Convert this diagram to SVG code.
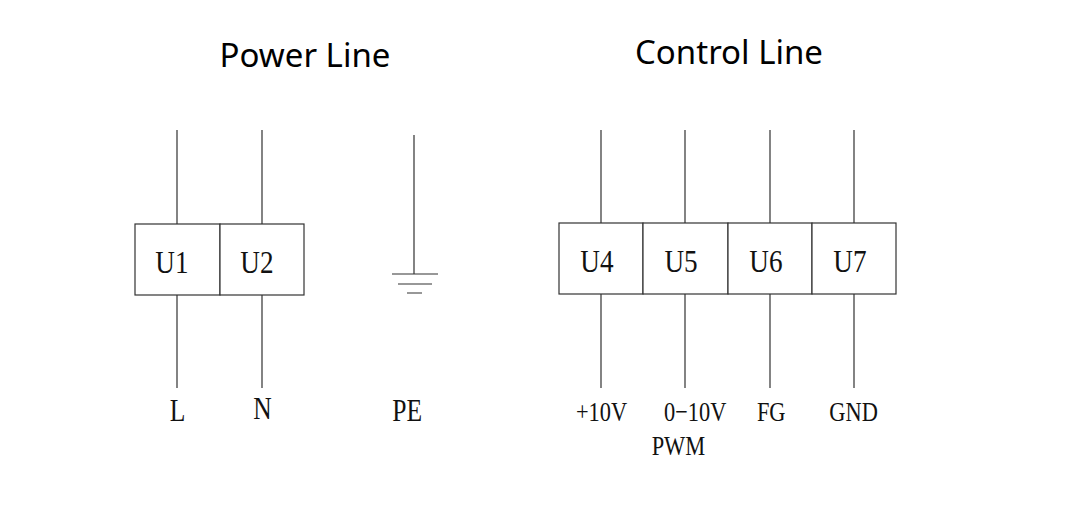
<svg xmlns="http://www.w3.org/2000/svg" width="1075" height="518" viewBox="0 0 1075 518">
<style>
.w{stroke:#333;stroke-width:1.2;fill:none}
.b{stroke:#333;stroke-width:1.2;fill:#fff}
.t{font-family:"Noto Sans","Open Sans",sans-serif;font-size:33px;fill:#000;text-anchor:middle}
.u{font-family:"Liberation Serif",serif;font-size:32px;fill:#111;text-anchor:middle}
.l{font-family:"Liberation Serif",serif;font-size:28px;fill:#111;text-anchor:middle}
</style>
<rect width="1075" height="518" fill="#fff"/>
<text class="t" x="305" y="67">Power Line</text>
<text class="t" x="729" y="64">Control Line</text>
<g id="connectors">
<path class="w" d="M177 130V388M262 130V388M601 130V388M685 130V388M770 130V388M854 130V388M414 135V274M392 274H438M398 284H432M407 293H422"/>
</g>
<g id="U1"><rect class="b" x="135" y="224" width="85" height="71"/><text class="u" x="172" y="273" transform="translate(172 0) scale(0.85 1) translate(-172 0)">U1</text></g>
<g id="U2"><rect class="b" x="220" y="224" width="84" height="71"/><text class="u" x="257" y="273" transform="translate(257 0) scale(0.85 1) translate(-257 0)">U2</text></g>
<g id="U4"><rect class="b" x="559" y="223" width="84" height="71"/><text class="u" x="597" y="272" transform="translate(597 0) scale(0.85 1) translate(-597 0)">U4</text></g>
<g id="U5"><rect class="b" x="643" y="223" width="85" height="71"/><text class="u" x="681" y="272" transform="translate(681 0) scale(0.85 1) translate(-681 0)">U5</text></g>
<g id="U6"><rect class="b" x="728" y="223" width="84" height="71"/><text class="u" x="766" y="272" transform="translate(766 0) scale(0.85 1) translate(-766 0)">U6</text></g>
<g id="U7"><rect class="b" x="812" y="223" width="84" height="71"/><text class="u" x="850" y="272" transform="translate(850 0) scale(0.85 1) translate(-850 0)">U7</text></g>
<g transform="scale(0.8 1)">
<text class="u" x="222" y="421">L</text>
<text class="u" x="328" y="419">N</text>
<text class="u" x="509" y="421">PE</text>
<text class="l" x="752" y="421">+10V</text>
<text class="l" x="869" y="421">0−10V</text>
<text class="l" x="848" y="455">PWM</text>
<text class="l" x="964" y="421">FG</text>
<text class="l" x="1067" y="421">GND</text>
</g>
</svg>
